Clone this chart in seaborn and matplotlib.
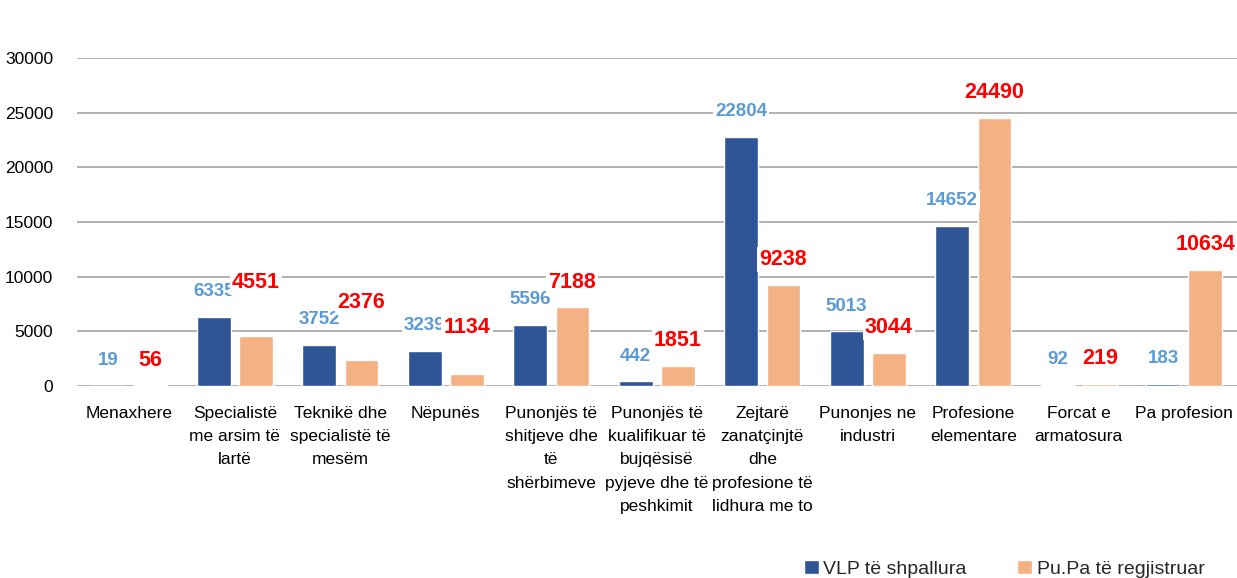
import matplotlib
matplotlib.use("Agg")
from matplotlib import pyplot as plt
from matplotlib.patches import Patch
import seaborn as sns
import pandas as pd

categories = [
    "Menaxhere",
    "Specialistë\nme arsim të\nlartë",
    "Teknikë dhe\nspecialistë të\nmesëm",
    "Nëpunës",
    "Punonjës të\nshitjeve dhe\ntë\nshërbimeve",
    "Punonjës të\nkualifikuar të\nbujqësisë\npyjeve dhe të\npeshkimit",
    "Zejtarë\nzanatçinjtë\ndhe\nprofesione të\nlidhura me to",
    "Punonjes ne\nindustri",
    "Profesione\nelementare",
    "Forcat e\narmatosura",
    "Pa profesion",
]
vlp = [19, 6335, 3752, 3239, 5596, 442, 22804, 5013, 14652, 92, 183]
pupa = [56, 4551, 2376, 1134, 7188, 1851, 9238, 3044, 24490, 219, 10634]
series_names = ["VLP të shpallura", "Pu.Pa të regjistruar"]

blue = "#2F5597"
orange = "#F4B183"
label_blue = "#5B9BD5"
label_red = "#FF0000"

df = pd.DataFrame({
    "cat": categories * 2,
    "value": vlp + pupa,
    "series": [series_names[0]] * len(vlp) + [series_names[1]] * len(pupa),
})

sns.set_style("white")
plt.rcParams["font.family"] = ["Liberation Sans", "DejaVu Sans"]

fig = plt.figure(figsize=(12.37, 5.78), dpi=100)
ax = fig.add_axes([0.062, 0.332, 0.938, 0.568])

sns.barplot(data=df, x="cat", y="value", hue="series",
            palette=[blue, orange], saturation=1, width=0.8, gap=0.2,
            legend=False, ax=ax, zorder=2)

ax.set_ylim(0, 30000)
ax.set_yticks(range(0, 30001, 5000))
ax.yaxis.grid(True, color="#A6A6A6", linewidth=1.2, zorder=0)
ax.set_axisbelow(True)
for s in ax.spines.values():
    s.set_visible(False)
ax.tick_params(axis="both", length=0, labelsize=12.5, colors="black")
ax.tick_params(axis="x", pad=14)
ax.tick_params(axis="y", pad=17)
ax.set_xlabel("")
ax.set_ylabel("")
ax.set_xlim(-0.5, len(categories) - 0.5)
for t in ax.get_xticklabels():
    t.set_linespacing(1.7)
    t.set_verticalalignment("top")

# data labels
off = 2300
red_extra = {1: 2600, 2: 3000, 3: 1900}
slot = 0.8 / 2
for i in range(len(categories)):
    xb = i - slot / 2
    xo = i + slot / 2
    ax.text(xb, vlp[i] + off, str(vlp[i]), ha="center", va="center",
            color=label_blue, fontsize=13.5, fontweight="bold", zorder=4,
            bbox=dict(facecolor="white", edgecolor="none", pad=1.5))
    ax.text(xo, pupa[i] + off + red_extra.get(i, 0), str(pupa[i]), ha="center", va="center",
            color=label_red, fontsize=15.5, fontweight="bold", zorder=4,
            bbox=dict(facecolor="white", edgecolor="none", pad=1.5))

handles = [Patch(facecolor=blue), Patch(facecolor=orange)]
fig.legend(handles, series_names, loc="lower right", bbox_to_anchor=(0.988, -0.03),
           ncol=2, frameon=False, fontsize=14, handlelength=0.75, handleheight=0.75,
           handletextpad=0.25, columnspacing=2.6)

fig.savefig("out.png", dpi=100)
